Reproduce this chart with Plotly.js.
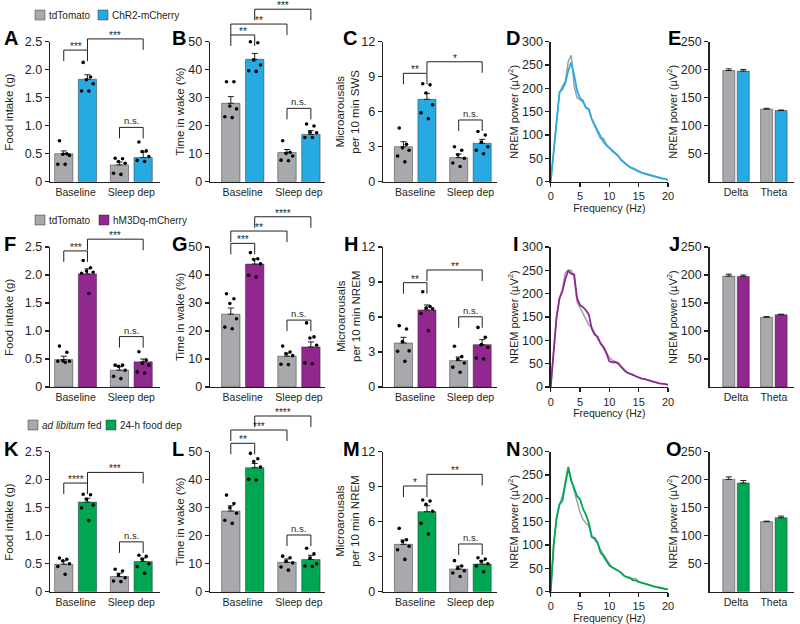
<!DOCTYPE html>
<html><head><meta charset="utf-8">
<script src="https://cdn.plot.ly/plotly-3.0.1.min.js"></script>
<style>html,body{margin:0;padding:0;background:#fff}</style>
</head><body><div id="chart" style="width:800px;height:624px"></div>
<script>
// ================= DATA =================
const barCategories = ['Baseline', 'Sleep dep'];
const bandCategories = ['Delta', 'Theta'];
const legendCtrl = ['tdTomato', 'tdTomato', '<i>ad libitum</i> fed'];
const legendExp = ['ChR2-mCherry', 'hM3Dq-mCherry', '24-h food dep'];

const foodTicks = [0, 0.5, 1, 1.5, 2, 2.5];
const foodTickText = ['0', '0.5', '1.0', '1.5', '2.0', '2.5'];
const wakeTicks = [0, 10, 20, 30, 40, 50];
const arousalTicks = [0, 3, 6, 9, 12];
const powerTicks = [0, 50, 100, 150, 200, 250, 300];
const bandTicks = [50, 100, 150, 200, 250];
const freqTicks = [0, 5, 10, 15, 20];

// ---- A: food intake, ChR2 ----
const A_ctrlMean = [0.50, 0.30], A_ctrlSem = [0.05, 0.05];
const A_expMean = [1.83, 0.43], A_expSem = [0.08, 0.10];
const A_ctrlDots = [[0.73, 0.50, 0.49, 0.47, 0.31, 0.31], [0.42, 0.41, 0.36, 0.33, 0.15, 0.13]];
const A_expDots = [[2.13, 1.87, 1.82, 1.75, 1.62, 1.62], [0.71, 0.55, 0.54, 0.45, 0.38, 0.36]];
const A_sigPairs = [[0, 1], [1, 3], [2, 3]];
const A_sigText = ['***', '***', 'n.s.'];
const A_sigLevel = [2.35, 2.55, 0.97];

// ---- B: time in wake, ChR2 ----
const B_ctrlMean = [28.0, 10.4], B_ctrlSem = [2.4, 1.1];
const B_expMean = [43.7, 16.9], B_expSem = [2.1, 1.3];
const B_ctrlDots = [[35.7, 35.7, 27.0, 26.0, 23.2, 22.9], [14.6, 10.5, 10.1, 9.2, 7.7, 7.5]];
const B_expDots = [[50.0, 49.6, 43.5, 41.7, 39.6, 39.4], [20.6, 19.9, 17.7, 17.5, 15.8, 15.8]];
const B_sigPairs = [[0, 1], [0, 2], [1, 3], [2, 3]];
const B_sigText = ['**', '**', '***', 'n.s.'];
const B_sigLevel = [52.4, 56.3, 61.6, 26.2];

// ---- C: microarousals, ChR2 ----
const C_ctrlMean = [3.0, 2.06], C_ctrlSem = [0.43, 0.31];
const C_expMean = [7.06, 3.29], C_expSem = [0.51, 0.34];
const C_ctrlDots = [[4.6, 3.2, 2.9, 2.7, 2.2, 1.7], [3.0, 2.7, 2.3, 2.0, 1.6, 1.3]];
const C_expDots = [[8.4, 8.3, 7.6, 6.6, 5.9, 5.4], [4.3, 4.0, 3.4, 3.0, 2.7, 2.4]];
const C_sigPairs = [[0, 1], [1, 3], [2, 3]];
const C_sigText = ['**', '*', 'n.s.'];
const C_sigLevel = [9.29, 10.28, 5.29];

// ---- spectra (D, I, N) ----
const freqHz = [0, 0.5, 1, 1.5, 2, 2.5, 3, 3.5, 4, 4.5, 5, 5.5, 6, 6.5, 7, 7.5, 8, 8.5, 9, 9.5, 10, 10.5, 11, 11.5, 12, 12.5, 13, 13.5, 14, 14.5, 15, 15.5, 16, 16.5, 17, 17.5, 18, 18.5, 19, 19.5, 20];
const D_ctrlPower = [0, 64, 128, 190, 205, 215, 258, 271, 205, 180, 176, 170, 160, 154, 135, 118, 105, 92, 93, 80, 72, 65, 60, 54, 47, 41, 36, 32, 29, 25, 22, 19, 17, 15, 13, 11, 10, 8, 7, 6, 4];
const D_expPower = [0, 64, 128, 192, 198, 212, 238, 256, 228, 195, 179, 174, 158, 156, 134, 121, 108, 96, 85, 78, 73, 66, 61, 56, 46, 41, 35, 31, 28, 25, 21, 19, 18, 16, 14, 12, 10, 9, 7, 6, 4];
const I_ctrlPower = [0, 85, 150, 190, 210, 245, 250, 250, 235, 182, 170, 160, 145, 133, 128, 115, 103, 95, 87, 75, 63, 57, 55, 53, 45, 38, 32, 29, 26, 23, 20, 18, 17, 15, 13, 11, 9, 8, 7, 6, 5];
const I_expPower = [0, 85, 150, 190, 205, 232, 249, 243, 241, 190, 176, 171, 165, 155, 125, 112, 108, 93, 85, 72, 55, 53, 53, 50, 42, 36, 31, 29, 26, 23, 20, 18, 17, 15, 13, 11, 9, 8, 7, 6, 5];
const N_ctrlPower = [0, 100, 158, 187, 205, 238, 268, 240, 215, 195, 170, 155, 148, 140, 120, 112, 103, 90, 80, 72, 60, 53, 49, 45, 41, 35, 31, 29, 27, 28, 21, 19, 18, 16, 14, 12, 10, 9, 7, 6, 5];
const N_expPower = [0, 100, 158, 187, 195, 232, 266, 238, 220, 205, 198, 178, 165, 148, 117, 115, 105, 84, 76, 66, 56, 52, 49, 45, 41, 34, 31, 30, 25, 24, 21, 19, 18, 16, 14, 12, 10, 9, 7, 6, 5];

// ---- band power (E, J, O) ----
const E_ctrlMean = [198.5, 129.5], E_ctrlSem = [3, 1.5];
const E_expMean = [197.5, 127], E_expSem = [3, 1];
const J_ctrlMean = [198, 124.5], J_ctrlSem = [3.5, 1.2];
const J_expMean = [197.5, 129], J_expSem = [2.5, 1];
const O_ctrlMean = [200.5, 125], O_ctrlSem = [4.5, 1];
const O_expMean = [194, 132], O_expSem = [4.5, 3];

// ---- F: food intake, hM3Dq ----
const F_ctrlMean = [0.49, 0.30], F_ctrlSem = [0.06, 0.06];
const F_expMean = [2.02, 0.45], F_expSem = [0.09, 0.05];
const F_ctrlDots = [[0.73, 0.62, 0.47, 0.46, 0.46, 0.44], [0.39, 0.39, 0.37, 0.30, 0.19, 0.15]];
const F_expDots = [[2.26, 2.13, 2.07, 2.05, 2.03, 1.67], [0.63, 0.48, 0.42, 0.39, 0.27, 0.25]];
const F_sigPairs = [[0, 1], [1, 3], [2, 3]];
const F_sigText = ['***', '***', 'n.s.'];
const F_sigLevel = [2.43, 2.64, 0.90];

// ---- G: time in wake, hM3Dq ----
const G_ctrlMean = [26.0, 11.0], G_ctrlSem = [2.2, 1.1];
const G_expMean = [43.9, 14.3], G_expSem = [1.8, 1.8];
const G_ctrlDots = [[33.3, 31.5, 29.8, 24.4, 21.4, 20.8], [14.6, 12.5, 11.9, 11.2, 8.1, 8.0]];
const G_expDots = [[48.0, 45.8, 45.5, 44.0, 39.9, 39.3], [22.9, 17.9, 17.5, 14.9, 8.6, 8.3]];
const G_sigPairs = [[0, 1], [0, 2], [1, 3], [2, 3]];
const G_sigText = ['***', '**', '****', 'n.s.'];
const G_sigLevel = [51.3, 55.7, 60.8, 23.9];

// ---- H: microarousals, hM3Dq ----
const H_ctrlMean = [3.77, 2.26], H_ctrlSem = [0.49, 0.31];
const H_expMean = [6.6, 3.63], H_expSem = [0.43, 0.43];
const H_ctrlDots = [[5.26, 4.97, 3.9, 3.1, 3.06, 2.2], [3.49, 2.6, 2.4, 2.06, 1.7, 1.26]];
const H_expDots = [[8.17, 6.9, 6.77, 6.71, 6.3, 4.83], [5.11, 4.26, 3.63, 3.4, 2.49, 2.4]];
const H_sigPairs = [[0, 1], [1, 3], [2, 3]];
const H_sigText = ['**', '**', 'n.s.'];
const H_sigLevel = [8.94, 10.03, 6.02];

// ---- K: food intake, food dep ----
const K_ctrlMean = [0.49, 0.27], K_ctrlSem = [0.06, 0.06];
const K_expMean = [1.60, 0.54], K_expSem = [0.07, 0.06];
const K_ctrlDots = [[0.60, 0.58, 0.55, 0.50, 0.45, 0.31], [0.40, 0.37, 0.30, 0.25, 0.19, 0.18]];
const K_expDots = [[1.74, 1.73, 1.65, 1.55, 1.50, 1.27], [0.65, 0.63, 0.58, 0.50, 0.45, 0.33]];
const K_sigPairs = [[0, 1], [1, 3], [2, 3]];
const K_sigText = ['****', '***', 'n.s.'];
const K_sigLevel = [1.94, 2.13, 0.89];

// ---- L: time in wake, food dep ----
const L_ctrlMean = [28.8, 10.5], L_ctrlSem = [1.9, 1.2];
const L_expMean = [44.3, 11.5], L_expSem = [1.5, 1.5];
const L_ctrlDots = [[34.5, 31.5, 30.0, 28.0, 25.5, 24.4], [12.7, 12.1, 10.9, 10.3, 8.8, 7.7]];
const L_expDots = [[49.4, 47.5, 46.5, 44.5, 40.1, 39.9], [15.5, 13.5, 12.0, 10.0, 9.2, 9.0]];
const L_sigPairs = [[0, 1], [0, 2], [1, 3], [2, 3]];
const L_sigText = ['**', '***', '****', 'n.s.'];
const L_sigLevel = [53.0, 57.75, 62.75, 20.25];

// ---- M: microarousals, food dep ----
const M_ctrlMean = [4.06, 1.94], M_ctrlSem = [0.37, 0.26];
const M_expMean = [6.86, 2.37], M_expSem = [0.51, 0.29];
const M_ctrlDots = [[5.43, 4.45, 4.3, 3.9, 3.6, 2.77], [2.66, 2.2, 2.0, 1.8, 1.6, 1.3]];
const M_expDots = [[7.86, 7.77, 7.49, 6.9, 5.86, 4.94], [2.91, 2.8, 2.6, 2.4, 2.2, 1.71]];
const M_sigPairs = [[0, 1], [1, 3], [2, 3]];
const M_sigText = ['*', '**', 'n.s.'];
const M_sigLevel = [9.06, 10.06, 4.09];

// ================= LAYOUT CONSTANTS =================
const W = 800, H = 624;
const FONT = 'Liberation Sans, Arial, Helvetica, sans-serif';
const INK = '#231f20';
const CTRL_COLOR = '#A7A9AC';
const CTRL_LINE = '#9D9FA2';
const EXP_COLORS = ['#27AAE1', '#92278F', '#00A651'];
const ROWS = [{top: 41.7, bot: 181.7, ext: 1}, {top: 247, bot: 387, ext: 206}, {top: 451.7, bot: 591.7, ext: 410}];
const COLS = [[50, 160], [210, 325], [383, 497], [550.7, 668], [709.5, 794]];
const YTITLE_X = [9, 180, 348, 513, 672];
const BAR_X = [0, 1, 2.35, 3.35];
const BAR_W = 0.77;
const BAR_RANGES = [[-0.58, 4.06], [-0.87, 3.94], [-0.87, 3.98]];
const BAND_X = [0, 1, 2.61, 3.61];
const BAND_W = 0.83;
const BAND_RANGE = [-1.33, 4.5];
const DOT_JITTER = [-0.18, 0.13, -0.04, 0.24, -0.25, 0.06];
const LEG_PX = 11;
const LETTERS = [
  ['A', 3, 38], ['B', 171, 38], ['C', 342, 38], ['D', 505, 38], ['E', 667, 38],
  ['F', 3, 244], ['G', 171, 244], ['H', 343, 244], ['I', 512, 244], ['J', 668, 244],
  ['K', 3, 449], ['L', 171, 449], ['M', 342, 449], ['N', 505, 449], ['O', 665, 449]
];
const LEGEND_POS = [
  {y: 15, ctrlBox: 35, ctrlText: 47, expBox: 98, expText: 110},
  {y: 220, ctrlBox: 35, ctrlText: 47, expBox: 99, expText: 111},
  {y: 425, ctrlBox: 28, ctrlText: 40, expBox: 106, expText: 118}
];

const traces = [], annotations = [], shapes = [];
const layout = {
  width: W, height: H, margin: {l: 0, r: 0, t: 0, b: 0},
  paper_bgcolor: '#fff', plot_bgcolor: 'rgba(0,0,0,0)',
  showlegend: false, barmode: 'overlay',
  font: {family: FONT, color: INK, size: 12}
};
let nextBracketAxis = 16;

function sfx(n) { return n === 1 ? '' : String(n); }
function xDomain(col) { return [COLS[col][0] / W, COLS[col][1] / W]; }
function yDomain(row) { return [1 - ROWS[row].bot / H, 1 - ROWS[row].top / H]; }

function yTitle(row, col, text, size) {
  annotations.push({xref: 'paper', yref: 'paper', x: YTITLE_X[col] / W,
    y: 1 - (ROWS[row].top + ROWS[row].bot) / 2 / H, text: text, textangle: -90,
    showarrow: false, xanchor: 'center', yanchor: 'middle',
    font: {size: size, color: INK}});
}
function yAxis(row, vmax, tickvals, ticktext, xs) {
  return {
    domain: yDomain(row), range: [0, vmax], anchor: xs,
    showline: true, linecolor: INK, linewidth: 1.3,
    ticks: 'outside', ticklen: 4, tickwidth: 1.3, tickcolor: INK,
    tickvals: tickvals, ticktext: ticktext,
    tickfont: {size: 12.5, color: INK},
    showgrid: false, zeroline: false, fixedrange: true
  };
}
function catXAxis(col, range, tickvals, ticktext, ys) {
  return {
    domain: xDomain(col), range: range, anchor: ys,
    showline: true, linecolor: INK, linewidth: 1.3, ticks: '',
    tickvals: tickvals, ticktext: ticktext, tickfont: {size: 10.5, color: INK},
    showgrid: false, zeroline: false, fixedrange: true
  };
}
function barTrace(x, y, sem, color, xs, ys, width) {
  return {
    type: 'bar', x: x, y: y, width: width, xaxis: xs, yaxis: ys,
    marker: {color: color, line: {color: 'rgba(35,31,32,0.55)', width: 0.8}},
    error_y: {type: 'data', symmetric: false, array: sem, arrayminus: sem.map(() => 0),
      color: INK, thickness: 1, width: 3},
    hoverinfo: 'skip'
  };
}

function barPanel(n, row, col, p) {
  const xs = 'x' + sfx(n), ys = 'y' + sfx(n);
  const color = EXP_COLORS[row];
  layout['xaxis' + sfx(n)] = catXAxis(col, BAR_RANGES[col],
    [(BAR_X[0] + BAR_X[1]) / 2, (BAR_X[2] + BAR_X[3]) / 2], barCategories, ys);
  layout['yaxis' + sfx(n)] = yAxis(row, p.vmax, p.ticks, p.tickText, xs);
  yTitle(row, col, p.title, 11.5);
  const ctrlX = [BAR_X[0], BAR_X[2]], expX = [BAR_X[1], BAR_X[3]];
  traces.push(barTrace(ctrlX, p.ctrlMean, p.ctrlSem, CTRL_COLOR, xs, ys, BAR_W));
  traces.push(barTrace(expX, p.expMean, p.expSem, color, xs, ys, BAR_W));
  const dx = [], dy = [];
  [[p.ctrlDots, ctrlX], [p.expDots, expX]].forEach(([sets, xpos]) => {
    sets.forEach((vals, g) => vals.forEach((v, i) => {
      dx.push(xpos[g] + DOT_JITTER[i % DOT_JITTER.length]); dy.push(v);
    }));
  });
  traces.push({type: 'scatter', mode: 'markers', x: dx, y: dy, xaxis: xs, yaxis: ys,
    marker: {size: 3.6, color: '#000'}, cliponaxis: false, hoverinfo: 'skip'});
  // bracket axis: same scale, extended upward
  const r = ROWS[row];
  const pxPerUnit = (r.bot - r.top) / p.vmax;
  const b = nextBracketAxis++;
  const bs = 'y' + b;
  layout['yaxis' + b] = {domain: [1 - r.bot / H, 1 - r.ext / H], range: [0, (r.bot - r.ext) / pxPerUnit],
    anchor: xs, visible: false, fixedrange: true, showgrid: false, zeroline: false};
  const leg = LEG_PX / pxPerUnit;
  const bx = [], by = [];
  p.sigPairs.forEach(([i, j], k) => {
    const lv = p.sigLevel[k];
    bx.push(BAR_X[i], BAR_X[i], BAR_X[j], BAR_X[j], null);
    by.push(lv - leg, lv, lv, lv - leg, null);
    const isNs = p.sigText[k] === 'n.s.';
    annotations.push({xref: xs, yref: bs, x: (BAR_X[i] + BAR_X[j]) / 2, y: lv,
      text: p.sigText[k], showarrow: false, xanchor: 'center', yanchor: 'bottom',
      yshift: isNs ? -1 : -4, font: {size: isNs ? 9.5 : 10, color: INK}});
  });
  traces.push({type: 'scatter', mode: 'lines', x: bx, y: by, xaxis: xs, yaxis: bs,
    line: {color: INK, width: 1}, hoverinfo: 'skip', connectgaps: false});
}

function spectrumPanel(n, row, col, ctrl, exp) {
  const xs = 'x' + sfx(n), ys = 'y' + sfx(n);
  layout['xaxis' + sfx(n)] = {
    domain: xDomain(col), range: [0, 20], anchor: ys,
    showline: true, linecolor: INK, linewidth: 1.3,
    ticks: 'outside', ticklen: 4, tickwidth: 1.3, tickcolor: INK,
    tickvals: freqTicks, tickfont: {size: 11, color: INK},
    showgrid: false, zeroline: false, fixedrange: true,
    title: {text: 'Frequency (Hz)', font: {size: 10.5, color: INK}, standoff: 0}
  };
  layout['yaxis' + sfx(n)] = yAxis(row, 300, powerTicks, null, xs);
  yTitle(row, col, 'NREM power (µV<sup>2</sup>)', 11);
  traces.push({type: 'scatter', mode: 'lines', x: freqHz, y: ctrl, xaxis: xs, yaxis: ys,
    line: {color: CTRL_LINE, width: 1.5}, hoverinfo: 'skip'});
  traces.push({type: 'scatter', mode: 'lines', x: freqHz, y: exp, xaxis: xs, yaxis: ys,
    line: {color: EXP_COLORS[row], width: 1.8}, hoverinfo: 'skip'});
}

function bandPanel(n, row, col, p) {
  const xs = 'x' + sfx(n), ys = 'y' + sfx(n);
  layout['xaxis' + sfx(n)] = catXAxis(col, BAND_RANGE,
    [(BAND_X[0] + BAND_X[1]) / 2, (BAND_X[2] + BAND_X[3]) / 2], bandCategories, ys);
  layout['yaxis' + sfx(n)] = yAxis(row, 250, bandTicks, null, xs);
  yTitle(row, col, 'NREM power (µV<sup>2</sup>)', 11);
  traces.push(barTrace([BAND_X[0], BAND_X[2]], p.ctrlMean, p.ctrlSem, CTRL_COLOR, xs, ys, BAND_W));
  traces.push(barTrace([BAND_X[1], BAND_X[3]], p.expMean, p.expSem, EXP_COLORS[row], xs, ys, BAND_W));
}

const foodAxis = {vmax: 2.5, ticks: foodTicks, tickText: foodTickText, title: 'Food intake (g)'};
const wakeAxis = {vmax: 50, ticks: wakeTicks, tickText: null, title: 'Time in wake (%)'};
function arousalAxis(state) {
  return {vmax: 12, ticks: arousalTicks, tickText: null, title: 'Microarousals<br>per 10 min ' + state};
}
function panelData(axis, cm, cs, em, es, cd, ed, sp, st, sl) {
  return Object.assign({ctrlMean: cm, ctrlSem: cs, expMean: em, expSem: es, ctrlDots: cd, expDots: ed,
    sigPairs: sp, sigText: st, sigLevel: sl}, axis);
}

// Row 1
barPanel(1, 0, 0, panelData(foodAxis, A_ctrlMean, A_ctrlSem, A_expMean, A_expSem, A_ctrlDots, A_expDots, A_sigPairs, A_sigText, A_sigLevel));
barPanel(2, 0, 1, panelData(wakeAxis, B_ctrlMean, B_ctrlSem, B_expMean, B_expSem, B_ctrlDots, B_expDots, B_sigPairs, B_sigText, B_sigLevel));
barPanel(3, 0, 2, panelData(arousalAxis('SWS'), C_ctrlMean, C_ctrlSem, C_expMean, C_expSem, C_ctrlDots, C_expDots, C_sigPairs, C_sigText, C_sigLevel));
spectrumPanel(4, 0, 3, D_ctrlPower, D_expPower);
bandPanel(5, 0, 4, {ctrlMean: E_ctrlMean, ctrlSem: E_ctrlSem, expMean: E_expMean, expSem: E_expSem});
// Row 2
barPanel(6, 1, 0, panelData(foodAxis, F_ctrlMean, F_ctrlSem, F_expMean, F_expSem, F_ctrlDots, F_expDots, F_sigPairs, F_sigText, F_sigLevel));
barPanel(7, 1, 1, panelData(wakeAxis, G_ctrlMean, G_ctrlSem, G_expMean, G_expSem, G_ctrlDots, G_expDots, G_sigPairs, G_sigText, G_sigLevel));
barPanel(8, 1, 2, panelData(arousalAxis('NREM'), H_ctrlMean, H_ctrlSem, H_expMean, H_expSem, H_ctrlDots, H_expDots, H_sigPairs, H_sigText, H_sigLevel));
spectrumPanel(9, 1, 3, I_ctrlPower, I_expPower);
bandPanel(10, 1, 4, {ctrlMean: J_ctrlMean, ctrlSem: J_ctrlSem, expMean: J_expMean, expSem: J_expSem});
// Row 3
barPanel(11, 2, 0, panelData(foodAxis, K_ctrlMean, K_ctrlSem, K_expMean, K_expSem, K_ctrlDots, K_expDots, K_sigPairs, K_sigText, K_sigLevel));
barPanel(12, 2, 1, panelData(wakeAxis, L_ctrlMean, L_ctrlSem, L_expMean, L_expSem, L_ctrlDots, L_expDots, L_sigPairs, L_sigText, L_sigLevel));
barPanel(13, 2, 2, panelData(arousalAxis('NREM'), M_ctrlMean, M_ctrlSem, M_expMean, M_expSem, M_ctrlDots, M_expDots, M_sigPairs, M_sigText, M_sigLevel));
spectrumPanel(14, 2, 3, N_ctrlPower, N_expPower);
bandPanel(15, 2, 4, {ctrlMean: O_ctrlMean, ctrlSem: O_ctrlSem, expMean: O_expMean, expSem: O_expSem});

// Panel letters
LETTERS.forEach(([t, x, y]) => annotations.push({xref: 'paper', yref: 'paper', x: x / W, y: 1 - y / H,
  xanchor: 'left', yanchor: 'middle', text: '<b>' + t + '</b>', showarrow: false, borderpad: 0,
  font: {size: 20, color: '#000', family: FONT}}));

// Manual legends
LEGEND_POS.forEach((lp, row) => {
  [[lp.ctrlBox, lp.ctrlText, CTRL_COLOR, legendCtrl[row]], [lp.expBox, lp.expText, EXP_COLORS[row], legendExp[row]]]
    .forEach(([bx, tx, col, label]) => {
      shapes.push({type: 'rect', xref: 'paper', yref: 'paper', x0: bx / W, x1: (bx + 10) / W,
        y0: 1 - (lp.y + 5) / H, y1: 1 - (lp.y - 5) / H, fillcolor: col,
        line: {color: 'rgba(35,31,32,0.55)', width: 0.8}});
      annotations.push({xref: 'paper', yref: 'paper', x: tx / W, y: 1 - lp.y / H, xanchor: 'left',
        yanchor: 'middle', text: label, showarrow: false, font: {size: 10, color: INK}});
    });
});

layout.annotations = annotations;
layout.shapes = shapes;
Plotly.newPlot('chart', traces, layout, {staticPlot: true, displayModeBar: false});
</script></body></html>
